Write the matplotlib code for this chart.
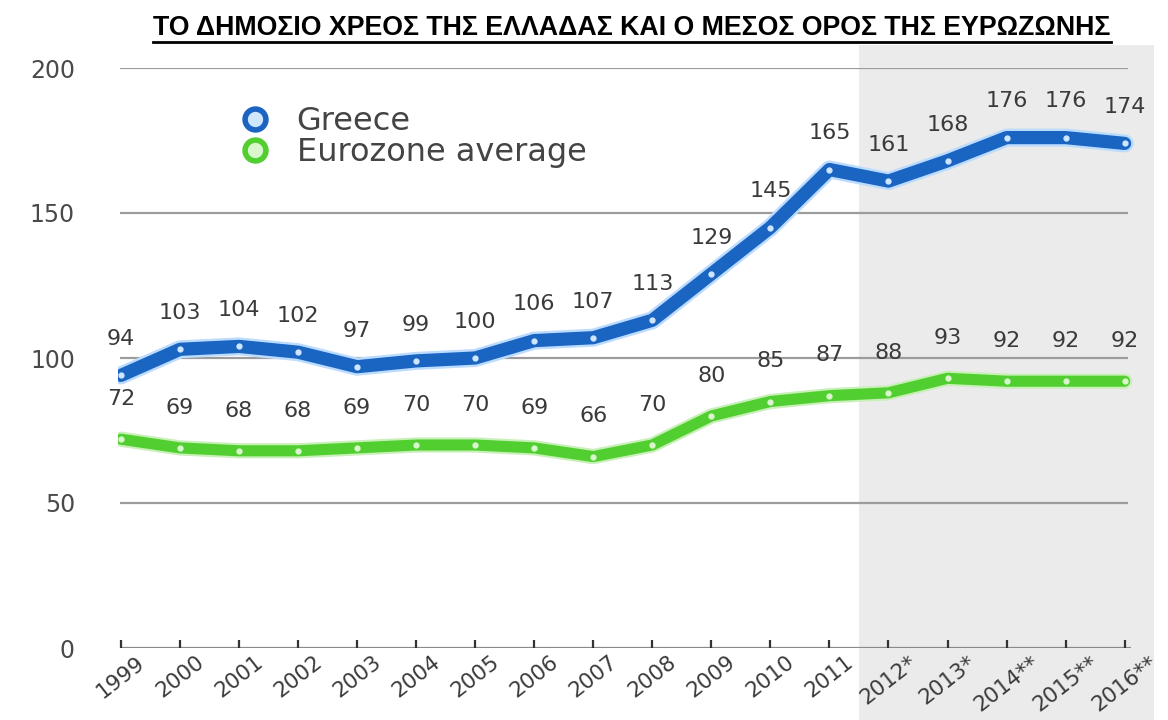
import matplotlib
matplotlib.use('Agg')
import matplotlib.pyplot as plt
from matplotlib.lines import Line2D
from matplotlib.patches import Rectangle
import matplotlib.transforms as mtransforms

# data
years = ['1999', '2000', '2001', '2002', '2003', '2004', '2005', '2006', '2007',
         '2008', '2009', '2010', '2011', '2012*', '2013*', '2014**', '2015**', '2016**']
greece = [94, 103, 104, 102, 97, 99, 100, 106, 107, 113, 129, 145, 165, 161, 168, 176, 176, 174]
eurozone = [72, 69, 68, 68, 69, 70, 70, 69, 66, 70, 80, 85, 87, 88, 93, 92, 92, 92]
y_ticks = [0, 50, 100, 150, 200]
first_estimate = years.index('2012*')  # shaded part = estimates / forecasts

title = 'ΤΟ ΔΗΜΟΣΙΟ ΧΡΕΟΣ ΤΗΣ ΕΛΛΑΔΑΣ ΚΑΙ Ο ΜΕΣΟΣ ΟΡΟΣ ΤΗΣ ΕΥΡΩΖΩΝΗΣ'

BLUE = '#1a64c2'
BLUE_LIGHT = '#cfe6ff'
GREEN = '#52cf30'
GREEN_LIGHT = '#d9f6cc'
TXT = '#3a3a3a'

fig = plt.figure(figsize=(11.68, 7.2), dpi=100)
ax = fig.add_axes([118/1168, 1 - 648/720, (1163 - 118)/1168, (648 - 68)/720])
ax.set_facecolor('none')

x = list(range(len(years)))
ax.set_xlim(-0.05, 17.65)
ax.set_ylim(0, 200)

# shaded estimate area, from under the title down to the bottom of the picture
trans = mtransforms.blended_transform_factory(ax.transData, fig.transFigure)
x0 = first_estimate - 0.5
shade = Rectangle((x0, 0), len(years) - 0.5 - x0, 0.938,
                  transform=trans, facecolor='#ebebeb', edgecolor='none',
                  zorder=0, clip_on=False)
ax.add_patch(shade)

# grid lines
ax.hlines(y_ticks[1:], -0.02, 17.05, color='#9c9c9c', lw=1.6, zorder=1)
ax.hlines(0, 0, 17.1, color='#8a8a8a', lw=1.6, zorder=1)

# lines with a soft halo
ax.plot(x, greece, color='#bcdcff', lw=13, solid_capstyle='round', zorder=2)
ax.plot(x, greece, color=BLUE, lw=9.5, solid_capstyle='round', zorder=3,
        marker='o', markersize=3.5, markerfacecolor=BLUE_LIGHT, markeredgecolor=BLUE_LIGHT)
ax.plot(x, eurozone, color='#c8f0b8', lw=11, solid_capstyle='round', zorder=2)
ax.plot(x, eurozone, color=GREEN, lw=8, solid_capstyle='round', zorder=3,
        marker='o', markersize=3.5, markerfacecolor=GREEN_LIGHT, markeredgecolor=GREEN_LIGHT)

for xi, v in zip(x, greece):
    ax.annotate(str(v), (xi, v), xytext=(0, 26), textcoords='offset points',
                ha='center', va='center', fontsize=16, color=TXT, zorder=4)
for xi, v in zip(x, eurozone):
    ax.annotate(str(v), (xi, v), xytext=(0, 29), textcoords='offset points',
                ha='center', va='center', fontsize=16, color=TXT, zorder=4)

# axes styling
for s in ax.spines.values():
    s.set_visible(False)
ax.set_yticks(y_ticks)
ax.set_yticklabels([str(t) for t in y_ticks], fontsize=17, color='#4a4a4a')
ax.tick_params(axis='y', length=0, pad=31)
ax.set_xticks(x)
ax.set_xticklabels(years, rotation=38, ha='center', va='top', fontsize=15.5, color=TXT)
ax.tick_params(axis='x', direction='in', length=6, width=1.6, color='#333333', pad=3)

# legend
handles = [
    Line2D([], [], ls='none', marker='o', markersize=15, mew=4,
           mfc=BLUE_LIGHT, mec=BLUE, label='Greece'),
    Line2D([], [], ls='none', marker='o', markersize=15, mew=4,
           mfc=GREEN_LIGHT, mec=GREEN, label='Eurozone average'),
]
ax.legend(handles=handles, loc='upper left', bbox_to_anchor=(236/1168, 1 - 106/720),
          bbox_transform=fig.transFigure, frameon=False, fontsize=23,
          borderpad=0, borderaxespad=0, handlelength=1.2, handletextpad=0.7,
          labelspacing=0.0, labelcolor='#444444')

# underlined bold title
t = fig.text(632/1168, 1 - 28/720, title, ha='center', va='center', fontsize=19.3,
             fontweight='bold', family=['Liberation Sans', 'DejaVu Sans'],
             color='black')
fig.canvas.draw()
bb = t.get_window_extent().transformed(fig.transFigure.inverted())
fig.add_artist(Line2D([bb.x0, bb.x1], [bb.y0 - 0.001, bb.y0 - 0.001],
                      transform=fig.transFigure, color='black', lw=2))

fig.savefig('out.png', dpi=100)
